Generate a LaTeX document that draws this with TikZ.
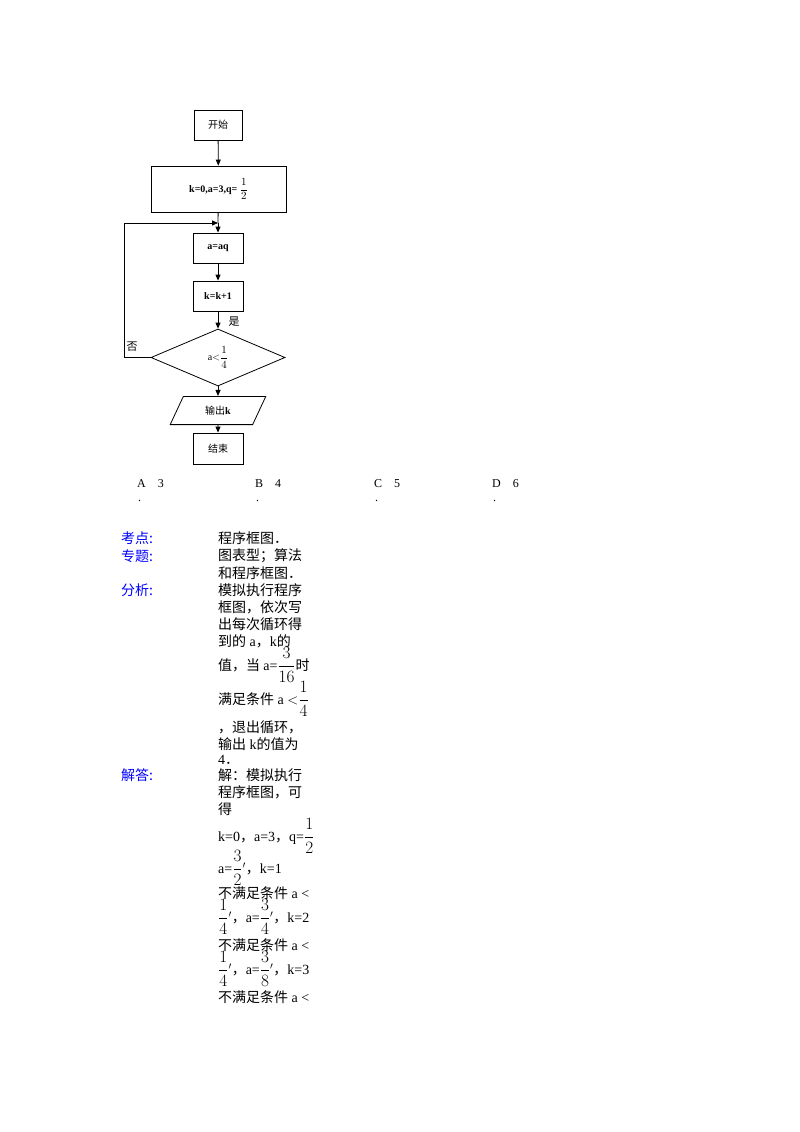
\documentclass[tikz,border=0pt]{standalone}
\usepackage{amsmath}
\usepackage{fontspec}
\setmainfont{Liberation Serif}
\newfontfamily\cjk{Noto Sans CJK SC}
\usetikzlibrary{shapes.geometric,arrows.meta}
\newcommand{\bigfr}[2]{{\fontsize{17}{19}\selectfont$\dfrac{#1}{#2}$}}
\newcommand{\smfr}[2]{{\fontsize{11}{13}\selectfont$\dfrac{#1}{#2}$}}
\tikzset{
 box/.style={draw,line width=0.8pt,minimum height=30pt,inner sep=2pt,font=\fontsize{10}{12}\selectfont\bfseries},
 arr/.style={line width=0.8pt,-{Triangle[length=6pt,width=5pt]}},
 lab/.style={anchor=west,text=blue,font=\cjk\fontsize{14}{16}\selectfont,inner sep=0},
 txt/.style={anchor=west,font=\fontsize{14}{16}\selectfont,inner sep=0},
 opt/.style={anchor=west,font=\fontsize{12}{14}\selectfont,inner sep=0}
}
\begin{document}
\begin{tikzpicture}[x=1pt,y=-1pt]
\useasboundingbox[fill=white] (0,0) rectangle (800,1132);
\node[box,minimum width=48pt] (s) at (218,125) {\cjk\mdseries 开始};
\node[box,minimum width=135pt,minimum height=46pt] (i) at (218.5,189) {k=0,a=3,q=\ \smfr{1}{2}};
\node[box,minimum width=50pt] (a) at (218,248) {a=aq};
\node[box,minimum width=50pt] (k) at (218,296) {k=k+1};
\node[draw,line width=0.8pt,diamond,minimum width=134pt,minimum height=57pt,inner sep=0,font=\fontsize{10}{12}\selectfont] (d) at (218,357.5) {a$<$\smfr{1}{4}};
\node[draw,line width=0.8pt,trapezium,trapezium left angle=65,trapezium right angle=115,minimum width=96pt,minimum height=21pt,inner sep=1pt,font=\fontsize{10}{12}\selectfont] (o) at (218,410.5) {\cjk 输出\rmfamily\bfseries k};
\node[box,minimum width=50pt,minimum height=31pt] (e) at (218,448.5) {\cjk\mdseries 结束};
\coordinate (j) at (218,223);
\coordinate (l1) at (124,357.5);
\coordinate (l2) at (124,223);
\draw[arr] (s) -- (i);
\draw[line width=0.8pt] (i) -- (j);
\draw[arr] (j) -- (a);
\draw[arr] (a) -- (k);
\draw[arr] (k) -- (d);
\draw[arr] (d) -- (o);
\draw[arr] (o) -- (e);
\draw[arr] (d.west) -- (l1) -- (l2) -- (j);
\node[font=\cjk\fontsize{11}{12}\selectfont,inner sep=0] (no) at (132,347) {否};
\node[font=\cjk\fontsize{11}{12}\selectfont,inner sep=0] (yes) at (234,322) {是};
\node[opt] (A) at (137,484) {A\quad 3};
\node[opt] (Ad) at (138,501) {.};
\node[opt] (B) at (255,484) {B\quad 4};
\node[opt] (Bd) at (256,501) {.};
\node[opt] (C) at (374,484) {C\quad 5};
\node[opt] (Cd) at (375,501) {.};
\node[opt] (D) at (492,484) {D\quad 6};
\node[opt] (Dd) at (493,501) {.};
\node[lab] (l1a) at (121,538) {考点:};
\node[lab] (l2a) at (121,556) {专题:};
\node[lab] (l3a) at (121,590) {分析:};
\node[lab] (l4a) at (121,775) {解答:};
\node[txt] at (218,538) {\cjk 程序框图．};
\node[txt] at (218,556) {\cjk 图表型；算法};
\node[txt] at (218,573) {\cjk 和程序框图．};
\node[txt] at (218,590) {\cjk 模拟执行程序};
\node[txt] at (218,607) {\cjk 框图，依次写};
\node[txt] at (218,624) {\cjk 出每次循环得};
\node[txt] at (218,641) {\cjk 到的\rmfamily\ a\cjk，\rmfamily k\cjk 的};
\node[txt] at (218,665) {\cjk 值，当 \rmfamily a=\bigfr{3}{16}\cjk 时};
\node[txt] at (218,699) {\cjk 满足条件\rmfamily\ a $<$\bigfr{1}{4}};
\node[txt] at (218,727) {\cjk ，退出循环，};
\node[txt] at (218,744) {\cjk 输出\rmfamily\ k\cjk 的值为};
\node[txt] at (218,760) {4\cjk ．};
\node[txt] at (218,775) {\cjk 解：模拟执行};
\node[txt] at (218,792) {\cjk 程序框图，可};
\node[txt] at (218,809) {\cjk 得};
\node[txt] at (218,836) {k=0\cjk，\rmfamily a=3\cjk，\rmfamily q=\bigfr{1}{2}};
\node[txt] at (218,868) {a=\bigfr{3}{2}$'$\cjk，\rmfamily k=1};
\node[txt] at (218,893) {\cjk 不满足条件\rmfamily\ a <};
\node[txt] at (218,917) {\bigfr{1}{4}$'$\cjk，\rmfamily a=\bigfr{3}{4}$'$\cjk，\rmfamily k=2};
\node[txt] at (218,945) {\cjk 不满足条件\rmfamily\ a <};
\node[txt] at (218,969) {\bigfr{1}{4}$'$\cjk，\rmfamily a=\bigfr{3}{8}$'$\cjk，\rmfamily k=3};
\node[txt] at (218,997) {\cjk 不满足条件\rmfamily\ a <};
\end{tikzpicture}
\end{document}
